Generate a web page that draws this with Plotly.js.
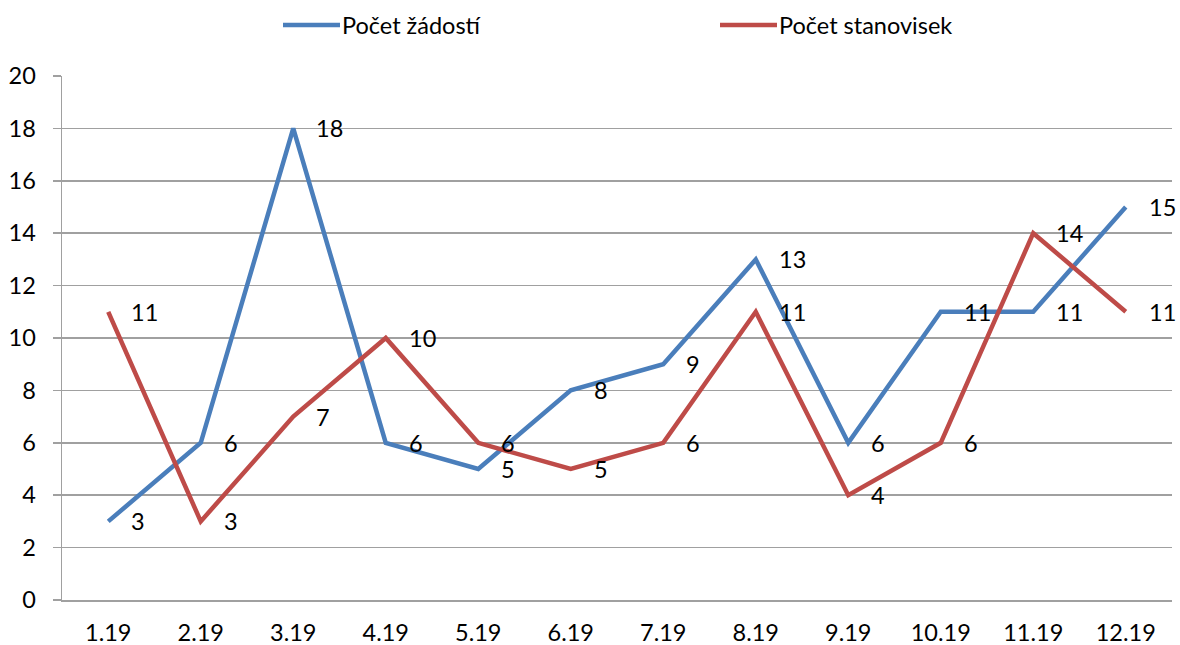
<!DOCTYPE html>
<html>
<head>
<meta charset="utf-8">
<script src="https://cdn.plot.ly/plotly-3.0.1.min.js"></script>
<style>html,body{margin:0;padding:0;background:#fff}#chart{width:1180px;height:645px}</style>
</head>
<body>
<div id="chart"></div>
<script>
const categories = ["1.19","2.19","3.19","4.19","5.19","6.19","7.19","8.19","9.19","10.19","11.19","12.19"];
const zadosti = [3,6,18,6,5,8,9,13,6,11,11,15];
const stanoviska = [11,3,7,10,6,5,6,11,4,6,14,11];
const seriesNames = ["Počet žádostí","Počet stanovisek"];
const yTicks = [0,2,4,6,8,10,12,14,16,18,20];

const FONT = "Lato, 'Open Sans', sans-serif";
const FS = 23.5;
const blue = "#4A7EBB", red = "#BE4B48";
const colors = [blue, red];

const traces = [
  {x: categories, y: zadosti, name: seriesNames[0], type: "scatter", mode: "lines",
   line: {color: blue, width: 4.5}, showlegend: false},
  {x: categories, y: stanoviska, name: seriesNames[1], type: "scatter", mode: "lines",
   line: {color: red, width: 4.5}, showlegend: false}
];

const annotations = [];
[zadosti, stanoviska].forEach(arr => arr.forEach((v, i) => {
  annotations.push({x: i, y: v, xref: "x", yref: "y", text: String(v), showarrow: false,
    xanchor: "left", yanchor: "middle", xshift: 21, font: {family: FONT, size: FS, color: "#000"}});
}));

// manual legend (paper coords: plot spans px 62..1172, 600..76)
const W = 1110, H = 524;
const legendStarts = [283, 720];
const shapes = [];
legendStarts.forEach((px, k) => {
  shapes.push({type: "line", xref: "paper", yref: "paper",
    x0: (px - 62) / W, x1: (px + 57 - 62) / W, y0: (600 - 25) / H, y1: (600 - 25) / H,
    line: {color: colors[k], width: 4.5}});
  annotations.push({xref: "paper", yref: "paper", x: (px + 57 - 62) / W, y: (600 - 25) / H,
    xanchor: "left", yanchor: "middle", text: seriesNames[k], showarrow: false,
    font: {family: FONT, size: FS, color: "#000"}});
});

const layout = {
  width: 1180, height: 645,
  margin: {l: 62, r: 8, t: 76, b: 45, autoexpand: false},
  paper_bgcolor: "#fff", plot_bgcolor: "#fff",
  font: {family: FONT, size: FS, color: "#000"},
  showlegend: false,
  xaxis: {type: "category", range: [-0.5, 11.5], showgrid: false, showline: true,
    linecolor: "#a0a0a0", linewidth: 1.5, ticks: "", tickfont: {family: FONT, size: FS}, ticklabelstandoff: 11},
  yaxis: {range: [0, 20], tickvals: yTicks, showgrid: true, gridcolor: "#a0a0a0", gridwidth: 1.5,
    showline: true, linecolor: "#a0a0a0", linewidth: 1.5, ticks: "outside", ticklen: 8, tickcolor: "#a0a0a0",
    tickwidth: 1.5, zeroline: false, tickfont: {family: FONT, size: FS}, ticklabelstandoff: 12},
  shapes: shapes,
  annotations: annotations
};

Plotly.newPlot("chart", traces, layout, {displayModeBar: false, staticPlot: true});
</script>
</body>
</html>
